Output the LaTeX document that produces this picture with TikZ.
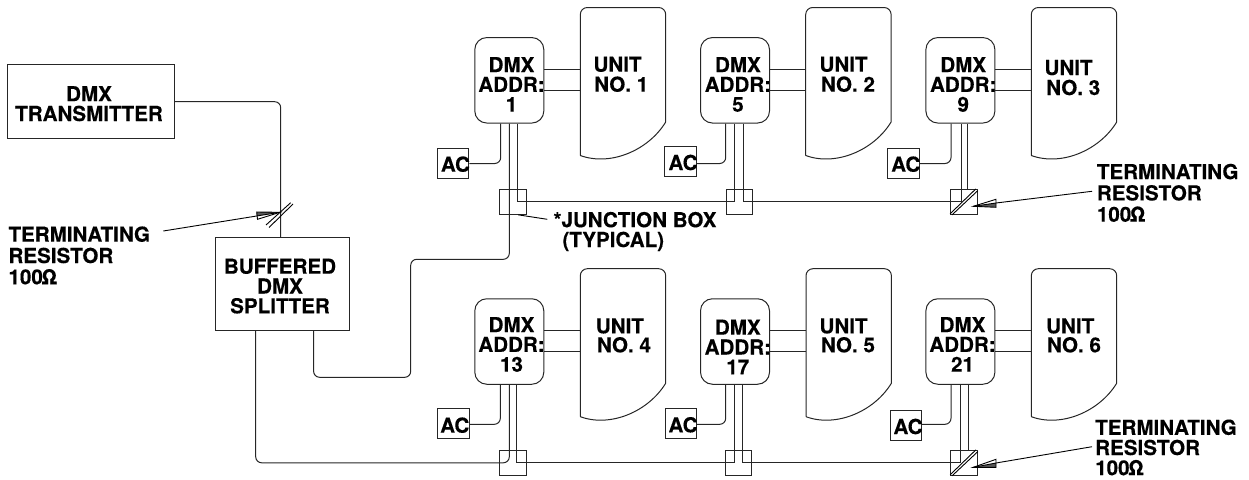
\documentclass[tikz,border=0pt]{standalone}
\usepackage{fontspec}
\setmainfont{TeX Gyre Heros}[BoldFeatures={FakeBold=0.3}]
\usetikzlibrary{calc}
\tikzset{
  wire/.style={line width=1pt,draw=black!85},
  box/.style={draw=black!85,line width=1pt,inner sep=0pt,rectangle},
  dmxbox/.style={box,rounded corners=12pt,minimum width=69pt,minimum height=85.5pt},
  acbox/.style={box,minimum width=31.6pt,minimum height=30pt},
  jbox/.style={box,line width=0.9pt,minimum width=26.8pt,minimum height=25pt},
  hold/.style={inner sep=0pt,minimum width=85.4pt,minimum height=148pt},
  lbl/.style={inner sep=0pt,font=\fontsize{20.6}{19.8}\selectfont\bfseries,text=black},
  lblc/.style={lbl,align=center,anchor=base},
  lbll/.style={lbl,align=left,anchor=base west},
  term/.style={lbl,font=\fontsize{20.6}{21.3}\selectfont\bfseries,align=left,anchor=base west},
  thin line/.style={line width=0.9pt,draw=black}
}
\begin{document}
\begin{tikzpicture}[x=1pt,y=-1pt]
\useasboundingbox (0,0) rectangle (1249,479);
% main boxes
\node[box,minimum width=166.6pt,minimum height=73.6pt] (tx) at (91,101.5) {};
\node[lblc] (txtext) at (89,121) {DMX\\TRANSMITTER};
\node[box,minimum width=134.4pt,minimum height=93.4pt] (split) at (282.5,284) {};
\node[lblc] (splittext) at (280,313.3) {BUFFERED\\DMX\\SPLITTER};
% dmx boxes
\foreach \n/\cx/\cy/\addr/\tx/\by in {
  1/509.3/80.3/1/511.5/111.7, 2/735/80.3/5/737.9/111.7, 3/960.4/80.3/9/963.2/111.7,
  4/509.3/341.5/13/511.5/371.7, 5/735/341.5/17/737.8/374.3, 6/960.4/341.5/21/962.5/371.7}{
  \node[dmxbox] (dmx\n) at (\cx,\cy) {};
  \node[lblc] (dmxtext\n) at (\tx,\by) {DMX\\ADDR:\\\addr};
}
% unit shapes
\foreach \n/\ux/\uy in {1/580.3/7.5, 2/805.7/7.5, 3/1031.3/7.5, 4/580.3/268.7, 5/806/268.7, 6/1031.3/268.7}{
  \node[hold,anchor=north west] (unit\n) at (\ux,\uy) {};
  \draw[wire] (\ux,\uy+148) [rounded corners=7pt] -- (\ux,\uy) -- (\ux+85.4,\uy) [sharp corners]
    -- (\ux+85.4,\uy+114.5) .. controls (\ux+68,\uy+143) and (\ux+30,\uy+159) .. (\ux,\uy+148);
}
\foreach \n/\lx/\nx/\by/\bz/\num in {
  1/593.3/594/71.7/91.7/1, 2/819.3/820.7/71.7/91.7/2, 3/1044.3/1046/75/95/3,
  4/595.7/596.7/333.3/352.3/4, 5/819.3/820.7/333.3/352.3/5, 6/1046/1046.7/333.3/352.3/6}{
  \node[lbll] (unittext\n) at (\lx,\by) {UNIT};
  \node[lbll] (unitno\n) at (\nx,\bz) {NO. \num};
}
% dmx to unit
\foreach \n in {1,...,6}{
  \coordinate (p\n) at ($(dmx\n.east)+(0,-11)$);
  \coordinate (q\n) at ($(dmx\n.east)+(0,10)$);
  \draw[wire] (p\n) -- (p\n -| unit\n.west);
  \draw[wire] (q\n) -- (q\n -| unit\n.west);
}
% AC boxes
\foreach \n/\cx/\cy/\tx/\by/\ly/\sx in {
  1/453/163.3/440.7/171.7/163.5/500.7, 2/680.7/161.7/668.3/170/163.5/725.7, 3/903.2/163.4/891/171.7/163.5/951,
  4/453.2/423.3/440/432.7/424.3/500.3, 5/680.9/423.3/668.3/432.3/424.3/725.7, 6/905.9/425/893.3/434/424.3/951}{
  \node[acbox] (ac\n) at (\cx,\cy) {};
  \node[lbll] (actext\n) at (\tx,\by) {AC};
  \draw[wire,rounded corners=6pt] (ac\n.east |- 0,\ly) -| (\sx,0 |- dmx\n.south);
}
% junction boxes
\node[jbox] (j1) at (513.2,201.9) {};
\node[jbox] (j2) at (739.4,201.9) {};
\node[jbox] (j3) at (963.9,201.9) {};
\node[jbox] (j4) at (512.7,462.8) {};
\node[jbox] (j5) at (738.4,462.8) {};
\node[jbox] (j6) at (964,462.8) {};
% top bus
\draw[wire] (517.7,0 |- dmx1.south) -- (517.7,0 |- j1.center) -- (734.7,0 |- j1.center) -- (734.7,0 |- dmx2.south);
\draw[wire] (743.3,0 |- dmx2.south) -- (743.3,0 |- j2.center) -- (961,0 |- j2.center) -- (961,0 |- dmx3.south);
\draw[wire] (967,0 |- dmx3.south) -- (967,0 |- j3.north);
% bottom bus
\draw[wire] (516.7,0 |- dmx4.south) -- (516.7,0 |- j4.center) -- (734.7,0 |- j4.center) -- (734.7,0 |- dmx5.south);
\draw[wire] (742.3,0 |- dmx5.south) -- (742.3,0 |- j5.center) -- (960.3,0 |- j5.center) -- (960.3,0 |- dmx6.south);
\draw[wire] (968,0 |- dmx6.south) -- (968,0 |- j6.north);
% feeds
\draw[wire,rounded corners=6pt] (tx.east |- 0,101.7) -| (280.7,0 |- split.north);
\draw[wire,rounded corners=6pt] (313.6,0 |- split.south) -- (313.6,377.3) -- (410.7,377.3) -- (410.7,259.3) -- (509.3,259.3) -- (509.3,0 |- dmx1.south);
\draw[wire,rounded corners=6pt] (255.7,0 |- split.south) -- (255.7,0 |- j4.center) -- (509.3,0 |- j4.center) -- (509.3,0 |- dmx4.south);
% terminating resistors
\foreach \j in {3,6}{
  \draw[thin line] ($(j\j.south west)+(0,-1)$) -- ($(j\j.north east)+(-2,0)$);
  \draw[thin line] ($(j\j.south west)+(2,0)$) -- ($(j\j.north east)+(0,1.7)$);
}
\coordinate (s1) at (266,225);
\coordinate (s2) at (290.7,202.7);
\coordinate (s3) at (269,227.5);
\coordinate (s4) at (293,204);
\draw[thin line] (s1) -- (s2);
\draw[thin line] (s3) -- (s4);
% labels
\node[term] (term1) at (8.3,284.3) {TERMINATING\\RESISTOR\\100\kern-1.5pt Ω};
\node[term] (term2) at (1096.7,221.7) {TERMINATING\\RESISTOR\\100\kern-1.5pt Ω};
\node[term,font=\fontsize{20.6}{20.2}\selectfont\bfseries] (term3) at (1095,475.2) {TERMINATING\\RESISTOR\\100\kern-1.5pt Ω};
\node[lbll] (jlabel) at (553.3,247) {*JUNCTION BOX\\\hspace*{9pt}(TYPICAL)};
% leaders
\draw[thin line] (518.3,0 |- j1.south) -- (547.3,219.3);
\fill[black!65] (280,212.3) -- (256.7,212) -- (256.7,216) -- cycle;
\draw[thin line] (163.3,231) -- (256.7,216) -- (280,212.3);
\draw[thin line] (280,212.3) -- (256.7,212) -- (257.5,219.3) -- cycle;
\fill[black!65] (973.3,206.3) -- (996,203) -- (996,207.3) -- cycle;
\draw[thin line] (1092,191.3) -- (996,203) -- (973.3,206.3);
\draw[thin line] (973.3,206.3) -- (996,199.3) -- (996,207.3) -- cycle;
\fill[black!65] (973.3,467.3) -- (996,463) -- (996,467.3) -- cycle;
\draw[thin line] (1092,446.7) -- (996,463) -- (973.3,467.3);
\draw[thin line] (973.3,467.3) -- (996,459.3) -- (996,467.3) -- cycle;
\end{tikzpicture}
\end{document}
